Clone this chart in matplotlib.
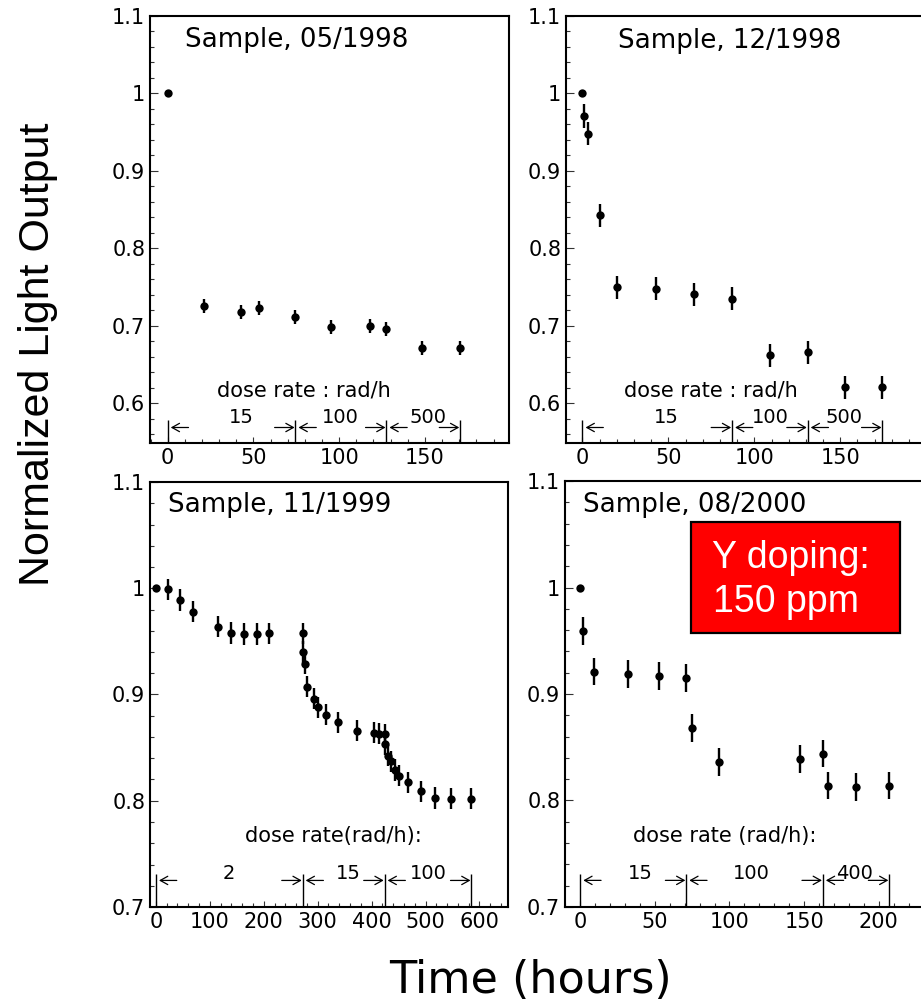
import matplotlib
matplotlib.use("Agg")
import matplotlib.pyplot as plt
from matplotlib.ticker import MultipleLocator, FuncFormatter
from matplotlib.patches import Rectangle

# ---- measured light output vs. irradiation time -------------------------
t_0598 = [0, 21, 42.5, 53, 74, 95, 118, 127.5, 148.5, 170.5]
lo_0598 = [1.000, 0.726, 0.718, 0.723, 0.712, 0.699, 0.700, 0.696, 0.672, 0.671]
err_0598 = [0, 0.009, 0.009, 0.009, 0.009, 0.009, 0.009, 0.009, 0.009, 0.009]

t_1298 = [0, 1, 3, 10, 20, 42.5, 65, 87, 109, 131, 153, 174.5]
lo_1298 = [1.000, 0.971, 0.948, 0.843, 0.750, 0.748, 0.741, 0.735, 0.662, 0.666,
           0.621, 0.621]
err_1298 = [0, 0.015, 0.015, 0.015, 0.015, 0.015, 0.015, 0.015, 0.015, 0.015,
            0.015, 0.015]

t_1199 = [0, 22, 44, 69, 116, 140, 163, 187, 210, 272, 273.5, 276.5, 281, 294,
          300, 315.5, 338.5, 372.5, 404.5, 414.5, 424, 424.5, 431, 435.5, 444,
          451, 468, 492, 518, 547.5, 585]
lo_1199 = [1.000, 0.999, 0.989, 0.978, 0.964, 0.958, 0.957, 0.957, 0.9575,
           0.9575, 0.940, 0.929, 0.9075, 0.896, 0.888, 0.881, 0.874, 0.866,
           0.864, 0.863, 0.8625, 0.853, 0.8425, 0.837, 0.829, 0.8235, 0.8175,
           0.809, 0.8025, 0.802, 0.802]
err_1199 = [0] + [0.01] * 30

t_0800 = [0, 2, 9, 32, 53, 71, 75, 93, 147, 162.5, 166, 185, 207]
lo_0800 = [1.000, 0.959, 0.921, 0.919, 0.917, 0.915, 0.868, 0.836, 0.839, 0.844,
           0.814, 0.813, 0.814]
err_0800 = [0] + [0.013] * 12

# dose-rate periods (start/end times in hours) and rates in rad/h
bounds_0598 = [0, 74.5, 127.5, 170.5]
rates_0598 = ["15", "100", "500"]
bounds_1298 = [0, 87, 131, 174.5]
rates_1298 = ["15", "100", "500"]
bounds_1199 = [0, 272, 424, 585]
rates_1199 = ["2", "15", "100"]
bounds_0800 = [0, 71, 162.5, 207]
rates_0800 = ["15", "100", "400"]

titles = ["Sample, 05/1998", "Sample, 12/1998", "Sample, 11/1999", "Sample, 08/2000"]
dose_titles = ["dose rate : rad/h", "dose rate : rad/h", "dose rate(rad/h):",
               "dose rate (rad/h):"]

# ---- layout (pixels) -----------------------------------------------------
W, H = 921, 1002
fig = plt.figure(figsize=(W / 100, H / 100), dpi=100)
fig.patch.set_facecolor("white")


def axes_px(left, top, right, bottom):
    return fig.add_axes([left / W, 1 - bottom / H, (right - left) / W, (bottom - top) / H])


panels = [
    dict(box=(150, 16, 509, 443), t=t_0598, y=lo_0598, e=err_0598,
         bounds=bounds_0598, rates=rates_0598, rate_x=[43, 100.5, 152],
         xlim=(-10.3, 199), ylim=(0.549, 1.1), xmaj=50, xmin=10,
         title_xy=(0.0975, 0.928), dose_x=79.5, dose_y=0.6085,
         line_top=0.5793, arrow_y=0.569, rate_y=0.5742),
    dict(box=(566, 16, 925, 443), t=t_1298, y=lo_1298, e=err_1298,
         bounds=bounds_1298, rates=rates_1298, rate_x=[49, 109.5, 152],
         xlim=(-9.6, 199.3), ylim=(0.549, 1.1), xmaj=50, xmin=10,
         title_xy=(0.144, 0.926), dose_x=74.7, dose_y=0.6085,
         line_top=0.5793, arrow_y=0.569, rate_y=0.5742),
    dict(box=(150, 482, 508, 907), t=t_1199, y=lo_1199, e=err_1199,
         bounds=bounds_1199, rates=rates_1199, rate_x=[136, 357, 505],
         xlim=(-11, 653), ylim=(0.7, 1.1), xmaj=100, xmin=20,
         title_xy=(0.051, 0.929), dose_x=329, dose_y=0.761,
         line_top=0.7313, arrow_y=0.725, rate_y=0.726),
    dict(box=(565, 481, 924, 907), t=t_0800, y=lo_0800, e=err_0800,
         bounds=bounds_0800, rates=rates_0800, rate_x=[40, 114.5, 184],
         xlim=(-10.2, 230.3), ylim=(0.7, 1.1), xmaj=50, xmin=10,
         title_xy=(0.051, 0.928), dose_x=97, dose_y=0.761,
         line_top=0.7313, arrow_y=0.725, rate_y=0.726),
]

fmt = FuncFormatter(lambda v, p: f"{v:g}")

for p, title, dtitle in zip(panels, titles, dose_titles):
    ax = axes_px(*p["box"])
    ax.set_xlim(*p["xlim"])
    ax.set_ylim(*p["ylim"])
    for s in ("top", "right", "left", "bottom"):
        ax.spines[s].set_linewidth(1.5)
        ax.spines[s].set_color("black")

    ax.errorbar(p["t"], p["y"], yerr=p["e"], fmt="o", color="black", ms=6,
                mew=0, elinewidth=1.7, capsize=0, zorder=3)

    ax.xaxis.set_major_locator(MultipleLocator(p["xmaj"]))
    ax.xaxis.set_minor_locator(MultipleLocator(p["xmin"]))
    ax.yaxis.set_major_locator(MultipleLocator(0.1))
    ax.yaxis.set_minor_locator(MultipleLocator(0.02))
    ax.xaxis.set_major_formatter(fmt)
    ax.yaxis.set_major_formatter(fmt)
    ax.tick_params(which="both", direction="in", top=False, right=False,
                   width=0.8, color="#333333")
    ax.tick_params(axis="y", which="major", length=6, pad=3.5, labelsize=15)
    ax.tick_params(axis="y", which="minor", length=3)
    ax.tick_params(axis="x", which="major", length=4.5, pad=3.5, labelsize=15)
    ax.tick_params(axis="x", which="minor", length=3)

    ax.text(*p["title_xy"], title, transform=ax.transAxes, ha="left",
            va="baseline", fontsize=18.8, family="DejaVu Sans")

    # dose-rate periods: boundary markers, arrows and rates
    ybot = p["ylim"][0]
    ax.vlines(p["bounds"], ybot, p["line_top"], color="black", lw=1.0)
    ax.text(p["dose_x"], p["dose_y"], dtitle, ha="center", va="baseline",
            fontsize=15, family="DejaVu Sans")
    arrow_kw = dict(arrowstyle="->,head_length=0.45,head_width=0.25",
                    color="black", lw=0.9, mutation_scale=12)
    for i, rate in enumerate(p["rates"]):
        a, b = p["bounds"][i], p["bounds"][i + 1]
        ax.annotate("", xy=(a, p["arrow_y"]), xytext=(15, 0),
                    textcoords="offset points",
                    arrowprops=dict(shrinkA=0, shrinkB=2.2, **arrow_kw))
        ax.annotate("", xy=(b, p["arrow_y"]), xytext=(-15, 0),
                    textcoords="offset points",
                    arrowprops=dict(shrinkA=0, shrinkB=0.6, **arrow_kw))
        ax.text(p["rate_x"][i], p["rate_y"], rate, ha="center", va="baseline",
                fontsize=14, family="DejaVu Sans")

# common axis titles
fig.text(38 / W, 1 - 354 / H, "Normalized Light Output", rotation=90,
         ha="center", va="center", fontsize=31, family="Liberation Sans")
fig.text(530 / W, 9 / H, "Time (hours)", ha="center", va="baseline",
         fontsize=32, family="DejaVu Sans")

# doping note
fig.add_artist(Rectangle((691 / W, 1 - 633 / H), 209 / W, 111 / H,
                         transform=fig.transFigure, facecolor="#ff0000",
                         edgecolor="black", lw=1.6, zorder=5))
fig.text(712 / W, 1 - 568 / H, "Y doping:", color="white", fontsize=27,
         family="Liberation Sans", va="baseline", ha="left", zorder=6)
fig.text(713 / W, 1 - 612.5 / H, "150 ppm", color="white", fontsize=27,
         family="Liberation Sans", va="baseline", ha="left", zorder=6)

fig.savefig("out.png", dpi=100)
